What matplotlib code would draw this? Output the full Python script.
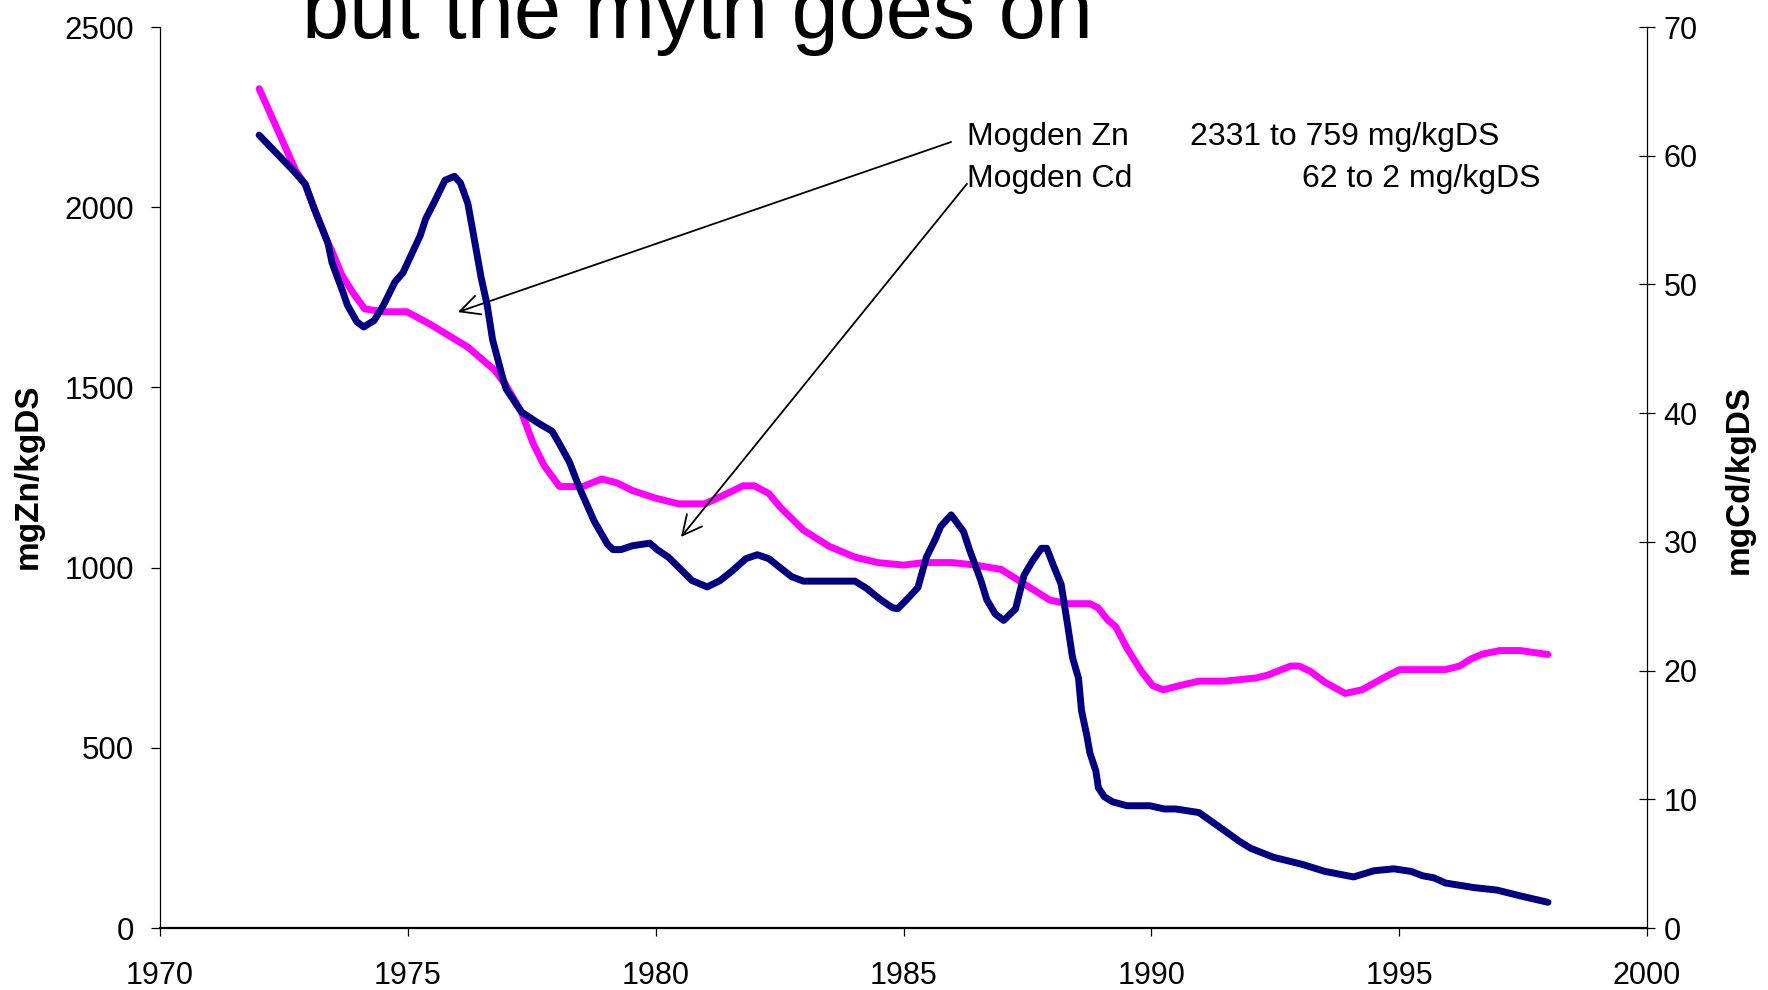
import matplotlib
matplotlib.use("Agg")
import matplotlib.pyplot as plt

plt.rcParams['font.family'] = ['Liberation Sans', 'DejaVu Sans']

# Mogden sludge, zinc (left axis)
zn_year = [1972.0, 1972.4, 1972.74, 1972.93, 1973.12, 1973.39, 1973.47, 1973.66, 1973.9, 1974.13,
           1974.51, 1974.98, 1975.44, 1976.21, 1976.52, 1976.75, 1976.98, 1977.29, 1977.52, 1977.75,
           1978.06, 1978.53, 1978.91, 1979.22, 1979.53, 1979.99, 1980.46, 1980.99, 1981.36, 1981.76,
           1981.99, 1982.28, 1982.51, 1982.98, 1983.5, 1984.02, 1984.48, 1985.0, 1985.41, 1985.98,
           1986.45, 1986.97, 1987.26, 1987.95, 1988.3, 1988.76, 1988.93, 1989.11, 1989.28, 1989.51,
           1989.8, 1990.03, 1990.24, 1990.55, 1990.96, 1991.48, 1992.12, 1992.35, 1992.81, 1992.98,
           1993.21, 1993.5, 1993.91, 1994.25, 1994.72, 1995.01, 1995.93, 1996.22, 1996.45, 1996.68,
           1997.03, 1997.44, 1998.0]
zn_value = [2329, 2206, 2101, 2062, 1993, 1900, 1878, 1814, 1761, 1718,
            1710, 1710, 1676, 1612, 1575, 1548, 1506, 1432, 1347, 1283,
            1225, 1225, 1246, 1235, 1214, 1193, 1177, 1177, 1200, 1227,
            1227, 1206, 1168, 1104, 1059, 1029, 1014, 1007, 1014, 1014,
            1007, 995, 970, 910, 900, 900, 888, 856, 836, 776,
            712, 672, 661, 672, 685, 685, 694, 702, 727, 727,
            712, 682, 651, 661, 697, 717, 717, 727, 747, 760,
            770, 770, 759]

# Mogden sludge, cadmium (right axis)
cd_year = [1972.0, 1972.7, 1972.93, 1973.12, 1973.39, 1973.47, 1973.7, 1973.78, 1973.97, 1974.11,
           1974.32, 1974.51, 1974.74, 1974.9, 1975.25, 1975.36, 1975.52, 1975.75, 1975.94, 1976.06,
           1976.21, 1976.29, 1976.48, 1976.6, 1976.71, 1976.91, 1976.98, 1977.29, 1977.6, 1977.91,
           1978.06, 1978.26, 1978.45, 1978.76, 1979.03, 1979.14, 1979.3, 1979.53, 1979.88, 1980.03,
           1980.26, 1980.73, 1981.04, 1981.3, 1981.53, 1981.82, 1982.05, 1982.28, 1982.74, 1982.98,
           1984.02, 1984.25, 1984.54, 1984.77, 1984.88, 1985.06, 1985.29, 1985.46, 1985.64, 1985.75,
           1985.96, 1986.21, 1986.33, 1986.56, 1986.68, 1986.85, 1987.02, 1987.26, 1987.43, 1987.6,
           1987.78, 1987.89, 1988.01, 1988.18, 1988.3, 1988.41, 1988.53, 1988.59, 1988.7, 1988.76,
           1988.88, 1988.93, 1989.05, 1989.22, 1989.51, 1989.97, 1990.26, 1990.49, 1990.96, 1991.42,
           1991.77, 1992.0, 1992.46, 1993.04, 1993.5, 1994.08, 1994.49, 1994.89, 1995.24, 1995.47,
           1995.7, 1995.93, 1996.51, 1996.97, 1997.44, 1998.0]
cd_value = [61.6, 58.8, 57.8, 55.8, 53.2, 51.7, 49.3, 48.4, 47.1, 46.7,
            47.2, 48.4, 50.2, 50.9, 53.8, 55.1, 56.3, 58.1, 58.4, 57.9,
            56.3, 54.6, 50.5, 48.4, 45.7, 42.8, 41.9, 40.1, 39.3, 38.6,
            37.6, 36.2, 34.3, 31.6, 29.8, 29.4, 29.4, 29.7, 29.9, 29.4,
            28.8, 27.0, 26.5, 27.0, 27.7, 28.7, 29.0, 28.7, 27.3, 26.95,
            26.95, 26.4, 25.5, 24.9, 24.8, 25.5, 26.45, 28.8, 30.2, 31.2,
            32.1, 30.8, 29.4, 27.0, 25.5, 24.4, 23.9, 24.8, 27.4, 28.5,
            29.5, 29.5, 28.3, 26.7, 23.8, 21.0, 19.4, 16.9, 14.9, 13.6,
            12.2, 10.9, 10.2, 9.8, 9.5, 9.5, 9.25, 9.25, 8.97, 7.72,
            6.75, 6.2, 5.5, 4.95, 4.4, 3.97, 4.45, 4.6, 4.4, 4.06,
            3.9, 3.5, 3.14, 2.95, 2.5, 2.0]

x_ticks = [1970, 1975, 1980, 1985, 1990, 1995, 2000]
zn_ticks = [0, 500, 1000, 1500, 2000, 2500]
cd_ticks = [0, 10, 20, 30, 40, 50, 60, 70]

fig = plt.figure(figsize=(17.68, 9.9), dpi=100)
ax = fig.add_axes([0.0905, 0.0626, 0.8411, 0.9101])
ax2 = ax.twinx()

ax.plot(zn_year, zn_value, color='#FF00FF', lw=5, solid_joinstyle='round', solid_capstyle='round')
ax2.plot(cd_year, cd_value, color='#000080', lw=5, solid_joinstyle='round', solid_capstyle='round')

ax.set_xlim(1970, 2000)
ax.set_ylim(0, 2500)
ax2.set_ylim(0, 70)
ax.set_xticks(x_ticks)
ax.set_yticks(zn_ticks)
ax2.set_yticks(cd_ticks)

for a in (ax, ax2):
    a.spines['top'].set_visible(False)
    a.patch.set_visible(False)
ax.spines['right'].set_visible(False)
ax2.spines['left'].set_visible(False)
ax2.spines['bottom'].set_visible(False)
ax.spines['left'].set_linewidth(0.9)
ax.spines['bottom'].set_linewidth(1.6)
ax2.spines['right'].set_linewidth(0.9)

ax.tick_params(axis='x', direction='out', length=6, width=0.9, labelsize=22, pad=18)
ax.tick_params(axis='y', direction='out', length=6.5, width=0.9, labelsize=22.5, pad=12)
ax2.tick_params(axis='y', direction='inout', length=12, width=0.9, labelsize=22, pad=6)

# title runs off the top of the slide
fig.text(0.1708, 0.9616, 'but the myth goes on', fontsize=61, ha='left', va='baseline')

fig.text(0.016, 0.519, 'mgZn/kgDS', rotation=90, fontsize=24, fontweight='bold', ha='center', va='center')
fig.text(0.984, 0.516, 'mgCd/kgDS', rotation=90, fontsize=24, fontweight='bold', ha='center', va='center')

# notes with arrows
ax.text(1986.28, 2173, 'Mogden Zn', fontsize=23, ha='left', va='baseline')
ax.text(1990.78, 2173, '2331 to 759 mg/kgDS', fontsize=23, ha='left', va='baseline')
ax.text(1986.28, 2056, 'Mogden Cd', fontsize=23, ha='left', va='baseline')
ax.text(1997.84, 2056, '62 to 2 mg/kgDS', fontsize=23, ha='right', va='baseline')

arrow = dict(arrowstyle='->,head_length=0.5,head_width=0.25', lw=1.3, color='black',
             mutation_scale=28, shrinkA=0, shrinkB=0)
ax.annotate('', xy=(1976.01, 1709), xytext=(1985.96, 2181), arrowprops=arrow)
ax.annotate('', xy=(1980.51, 1085), xytext=(1986.28, 2065), arrowprops=arrow)

fig.savefig('out.png', dpi=100)
